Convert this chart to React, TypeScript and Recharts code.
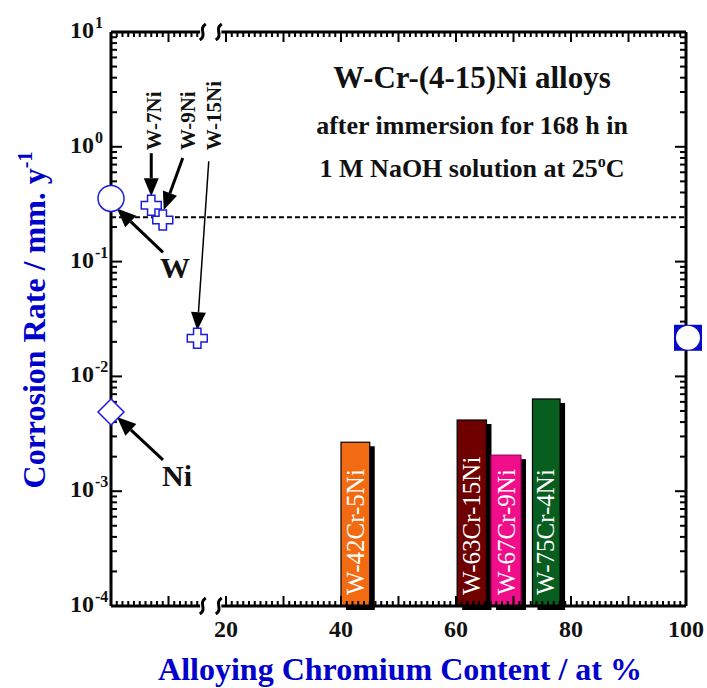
import React from 'react';
import { ComposedChart, XAxis, YAxis, Scatter, ReferenceLine, ReferenceArea, ReferenceDot } from 'recharts';

const FONT = '"Liberation Serif", "Times New Roman", serif';
const BLUE = '#1c1ce0';
const TITLE_BLUE = '#0000cc';

// pure metals
const pureNames = ['W', 'Ni', 'Cr'];
const pureX = [0, 0, 100];
const pureRate = [0.355, 0.0049, 0.0217];

// binary W-Ni alloys
const wniNames = ['W-7Ni', 'W-9Ni', 'W-15Ni'];
const wniX = [7, 9, 15];
const wniRate = [0.31, 0.23, 0.0215];

// W-Cr-Ni alloys, bars over their Cr range
const alloyNames = ['W-42Cr-5Ni', 'W-63Cr-15Ni', 'W-67Cr-9Ni', 'W-75Cr-4Ni'];
const alloyFrom = [40, 60.2, 66.1, 73.3];
const alloyTo = [45, 65.3, 71.3, 78.1];
const alloyRate = [0.00267, 0.00417, 0.00206, 0.00636];

const xTickLabels = [20, 40, 60, 80, 100];
const yDecades = [-4, -3, -2, -1, 0, 1];
const dashLevel = 0.243;
const xBreak = [15.5, 19.2];

const BAR_COLORS = ['#f26b12', '#6e0000', '#f00e8a', '#075e1f'];
const BAR_STROKES = ['#000', '#000', '#a0005a', '#000'];

const X_MIN = 0;
const X_MAX = 100;
const Y_MIN = Math.pow(10, yDecades[0]);
const Y_MAX = Math.pow(10, yDecades[yDecades.length - 1]);

const xTicks: number[] = [];
for (let i = X_MIN; i <= X_MAX; i++) if (i < xBreak[0] || i > xBreak[1]) xTicks.push(i);

const yTicks: number[] = [];
yDecades.slice(0, -1).forEach((e) => {
  for (let m = 1; m < 10; m++) yTicks.push(m * Math.pow(10, e));
});
yTicks.push(Y_MAX);

const pureData = pureNames.map((name, i) => ({ name, x: pureX[i], y: pureRate[i] }));
const wniData = wniNames.map((name, i) => ({ name, x: wniX[i], y: wniRate[i] }));

// frame tick positions (one point per tick, sitting on the frame)
const isDecade = (v: number) => Math.abs(Math.log10(v) - Math.round(Math.log10(v))) < 1e-6;
const bottomTicks = xTicks.map((v) => ({ x: v, y: Y_MIN, major: v % 10 === 0 }));
const topTicks = xTicks.map((v) => ({ x: v, y: Y_MAX, major: v % 10 === 0 }));
const leftTicks = yTicks.map((v) => ({ x: X_MIN, y: v, major: isDecade(v) }));
const rightTicks = yTicks.map((v) => ({ x: X_MAX, y: v, major: isDecade(v) }));

// arrow / label offsets from each annotated point (px)
const NOTES: Record<string, any> = {
  W: { tail: [52, 54], tip: [6, 10], label: [64, 80], size: 30, w: 3, head: [19, 8] },
  Ni: { tail: [52, 48], tip: [6, 5], label: [66, 74], size: 30, w: 3, head: [19, 8] },
  'W-7Ni': { tail: [0, -52], tip: [0, -9], label: [9.5, -55], size: 21, w: 3, head: [18, 7.5], vertical: true },
  'W-9Ni': { tail: [20, -62], tip: [1, -10], label: [32.5, -70], size: 21, w: 3, head: [18, 7.5], vertical: true },
  'W-15Ni': { tail: [11.5, -177], tip: [0, -8], label: [23.5, -188], size: 21, w: 1.5, head: [18, 7.5], vertical: true },
};

const tickShape = (dir: 'up' | 'down' | 'right' | 'left', major: number, minor: number) => (p: any) => {
  const len = p.payload.major ? major : minor;
  const dx = dir === 'right' ? len : dir === 'left' ? -len : 0;
  const dy = dir === 'down' ? len : dir === 'up' ? -len : 0;
  return <line x1={p.cx} y1={p.cy} x2={p.cx + dx} y2={p.cy + dy} stroke="#000" strokeWidth={2} />;
};

const LeftLabel = ({ x, y, payload }: any) => {
  const v = payload.value;
  return (
    <g fontFamily={FONT} fontWeight="bold" fill="#111">
      <text x={x - 17} y={y + 6} textAnchor="end" fontSize={24}>10</text>
      <text x={x - 16} y={y - 4} textAnchor="start" fontSize={16}>{Math.round(Math.log10(v))}</text>
    </g>
  );
};

const BottomLabel = ({ x, y, payload }: any) => (
  <text x={x} y={y + 31} textAnchor="middle" fontFamily={FONT} fontWeight="bold" fontSize={24} fill="#111">
    {payload.value}
  </text>
);

const PureShape = (props: any) => {
  const { cx, cy, payload } = props;
  if (payload.name === 'W') return <circle cx={cx} cy={cy} r={13} fill="#fff" stroke={BLUE} strokeWidth={1.5} />;
  if (payload.name === 'Ni')
    return (
      <polygon
        points={`${cx},${cy - 13} ${cx + 13},${cy} ${cx},${cy + 13} ${cx - 13},${cy}`}
        fill="#fff"
        stroke={BLUE}
        strokeWidth={1.5}
      />
    );
  return (
    <g>
      <rect x={cx - 12} y={cy - 13} width={28} height={26} fill="#0808c8" />
      <circle cx={cx + 2} cy={cy} r={12} fill="#fff" />
    </g>
  );
};

const CrossShape = ({ cx, cy }: any) => {
  const a = 10;
  const b = 3.7;
  const d = `M${cx - b},${cy - a} H${cx + b} V${cy - b} H${cx + a} V${cy + b} H${cx + b} V${cy + a} H${cx - b} V${cy + b} H${cx - a} V${cy - b} H${cx - b} Z`;
  return <path d={d} fill="#fff" stroke={BLUE} strokeWidth={1.5} />;
};

const Arrow = ({ x1, y1, x2, y2, w, head }: any) => {
  const ang = Math.atan2(y2 - y1, x2 - x1);
  const c = Math.cos(ang);
  const s = Math.sin(ang);
  const bx = x2 - head[0] * c;
  const by = y2 - head[0] * s;
  return (
    <g>
      <line x1={x1} y1={y1} x2={bx} y2={by} stroke="#000" strokeWidth={w} />
      <polygon
        points={`${x2},${y2} ${bx + head[1] * s},${by - head[1] * c} ${bx - head[1] * s},${by + head[1] * c}`}
        fill="#000"
      />
    </g>
  );
};

const NoteShape = (name: string) => (props: any) => {
  const { cx, cy } = props;
  const n = NOTES[name];
  const lx = cx + n.label[0];
  const ly = cy + n.label[1];
  return (
    <g>
      <Arrow x1={cx + n.tail[0]} y1={cy + n.tail[1]} x2={cx + n.tip[0]} y2={cy + n.tip[1]} w={n.w} head={n.head} />
      {n.vertical ? (
        <text transform={`translate(${lx},${ly}) rotate(-90)`} fontFamily={FONT} fontWeight="bold" fontSize={n.size} fill="#111">
          {name}
        </text>
      ) : (
        <text x={lx} y={ly} textAnchor="middle" fontFamily={FONT} fontWeight="bold" fontSize={n.size} fill="#111">
          {name}
        </text>
      )}
    </g>
  );
};

const AlloyBar = ({ x, y, width, height, name, color, edge }: any) => (
  <g>
    <rect x={x + 5} y={y + 4} width={width} height={height} fill="#000" />
    <rect x={x} y={y} width={width} height={height} fill={color} stroke={edge} strokeWidth={1.2} />
    <text transform={`translate(${x + width - 6},${y + height - 11}) rotate(-90)`} fontFamily={FONT} fontSize={25} fill="#fff">
      {name}
    </text>
  </g>
);

const BreakMark = ({ cx, cy }: any) => {
  const sq = (sx: number) => `M${sx + 3},${cy - 8} C${sx - 5},${cy - 3} ${sx + 5},${cy + 3} ${sx - 3},${cy + 8}`;
  return (
    <g fill="none" stroke="#000" strokeWidth={3}>
      <path d={sq(cx - 8)} />
      <path d={sq(cx + 8)} />
    </g>
  );
};

export default function App() {
  const breakMid = (xBreak[0] + xBreak[1]) / 2;
  return (
    <div style={{ position: 'absolute', left: 0, top: 0, width: 707, height: 688, background: '#fff' }}>
      <ComposedChart width={707} height={688} margin={{ top: 32, right: 21, bottom: 22, left: 51 }}>
        <XAxis
          dataKey="x"
          type="number"
          domain={[X_MIN, X_MAX]}
          ticks={xTickLabels}
          interval={0}
          height={60}
          axisLine={false}
          tickLine={false}
          tickSize={0}
          tickMargin={0}
          tick={(p: any) => <BottomLabel {...p} />}
        />
        <YAxis
          type="number"
          scale="log"
          domain={[Y_MIN, Y_MAX]}
          ticks={yDecades.map((e) => Math.pow(10, e))}
          interval={0}
          width={60}
          axisLine={false}
          tickLine={false}
          tickSize={0}
          tickMargin={0}
          tick={(p: any) => <LeftLabel {...p} />}
        />

        <ReferenceLine y={dashLevel} stroke="#000" strokeWidth={2} strokeDasharray="5 3" />

        {alloyNames.map((name, i) => (
          <ReferenceArea
            key={name}
            x1={alloyFrom[i]}
            x2={alloyTo[i]}
            y1={Y_MIN}
            y2={alloyRate[i]}
            shape={(p: any) => <AlloyBar {...p} name={name} color={BAR_COLORS[i]} edge={BAR_STROKES[i]} />}
          />
        ))}

        <ReferenceLine x={X_MIN} stroke="#000" strokeWidth={3} />
        <ReferenceLine x={X_MAX} stroke="#000" strokeWidth={3} />
        <ReferenceLine segment={[{ x: X_MIN, y: Y_MIN }, { x: xBreak[0], y: Y_MIN }]} stroke="#000" strokeWidth={3} />
        <ReferenceLine segment={[{ x: xBreak[1], y: Y_MIN }, { x: X_MAX, y: Y_MIN }]} stroke="#000" strokeWidth={3} />
        <ReferenceLine segment={[{ x: X_MIN, y: Y_MAX }, { x: xBreak[0], y: Y_MAX }]} stroke="#000" strokeWidth={3} />
        <ReferenceLine segment={[{ x: xBreak[1], y: Y_MAX }, { x: X_MAX, y: Y_MAX }]} stroke="#000" strokeWidth={3} />
        <ReferenceDot x={breakMid} y={Y_MIN} shape={(p: any) => <BreakMark {...p} />} />
        <ReferenceDot x={breakMid} y={Y_MAX} shape={(p: any) => <BreakMark {...p} />} />

        {[...pureData.slice(0, 2), ...wniData].map((d) => (
          <ReferenceDot key={d.name} x={d.x} y={d.y} shape={NoteShape(d.name)} />
        ))}

        <Scatter data={bottomTicks} dataKey="y" shape={tickShape('up', 10, 5)} isAnimationActive={false} />
        <Scatter data={topTicks} dataKey="y" shape={tickShape('down', 10, 5)} isAnimationActive={false} />
        <Scatter data={leftTicks} dataKey="y" shape={tickShape('right', 11, 6)} isAnimationActive={false} />
        <Scatter data={rightTicks} dataKey="y" shape={tickShape('left', 11, 6)} isAnimationActive={false} />

        <Scatter data={pureData} dataKey="y" shape={(p: any) => <PureShape {...p} />} isAnimationActive={false} />
        <Scatter data={wniData} dataKey="y" shape={(p: any) => <CrossShape {...p} />} isAnimationActive={false} />
      </ComposedChart>

      <svg width={707} height={688} style={{ position: 'absolute', left: 0, top: 0, pointerEvents: 'none' }}>
        <g fontFamily={FONT} fontWeight="bold" fill="#111" textAnchor="middle">
          <text x={472} y={88} fontSize={31}>W-Cr-(4-15)Ni alloys</text>
          <text x={472} y={134} fontSize={26}>after immersion for 168 h in</text>
          <text x={472} y={177} fontSize={26}>
            1 M NaOH solution at 25<tspan dy={-10} fontSize={16}>o</tspan>
            <tspan dy={10}>C</tspan>
          </text>
        </g>
        <g fontFamily={FONT} fontWeight="bold" fill={TITLE_BLUE}>
          <text x={400} y={680} textAnchor="middle" fontSize={32}>Alloying Chromium Content / at %</text>
          <text transform="translate(45,320) rotate(-90)" textAnchor="middle" fontSize={32}>
            Corrosion Rate / mm. y<tspan dy={-13} fontSize={20}>-1</tspan>
          </text>
        </g>
      </svg>
    </div>
  );
}
